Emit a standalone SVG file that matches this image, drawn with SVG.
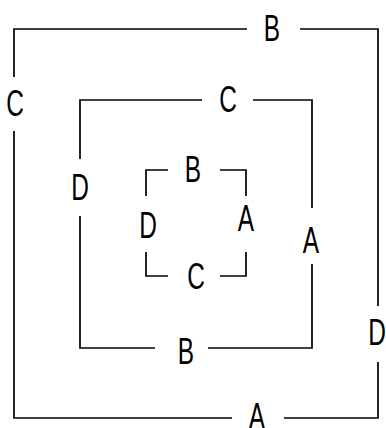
<svg xmlns="http://www.w3.org/2000/svg" width="386" height="428" viewBox="0 0 386 428">
<style>
.ln{fill:none;stroke:#000;stroke-width:1.7;stroke-linecap:butt;stroke-linejoin:miter}
.lb{font-family:"Liberation Sans",Arial,sans-serif;font-size:37px;fill:#000;text-anchor:middle}
</style>
<rect width="386" height="428" fill="#fff"/>
<g id="outer">
<path class="ln" d="M247,29 H14 V77 M14,131 V418 H232 M284,418 H378 V362 M378,306 V29 H300"/>
<text class="lb" transform="translate(272,41) scale(0.66,1)">B</text>
<text class="lb" transform="translate(15,116) scale(0.66,1)">C</text>
<text class="lb" transform="translate(377,345) scale(0.66,1)">D</text>
<text class="lb" transform="translate(257,429) scale(0.66,1)">A</text>
</g>
<g id="middle">
<path class="ln" d="M202,100 H80 V159 M80,216 V348 H155 M208,348 H312 V264 M312,208 V100 H253"/>
<text class="lb" transform="translate(228,112) scale(0.66,1)">C</text>
<text class="lb" transform="translate(80,200) scale(0.66,1)">D</text>
<text class="lb" transform="translate(311,253) scale(0.66,1)">A</text>
<text class="lb" transform="translate(186,364) scale(0.66,1)">B</text>
</g>
<g id="inner">
<path class="ln" d="M168,170 H146 V196 M146,252 V276 H168 M220,276 H246 V252 M246,196 V170 H220"/>
<text class="lb" transform="translate(193,182) scale(0.66,1)">B</text>
<text class="lb" transform="translate(148,238) scale(0.66,1)">D</text>
<text class="lb" transform="translate(246,231) scale(0.66,1)">A</text>
<text class="lb" transform="translate(196,289) scale(0.66,1)">C</text>
</g>
</svg>
